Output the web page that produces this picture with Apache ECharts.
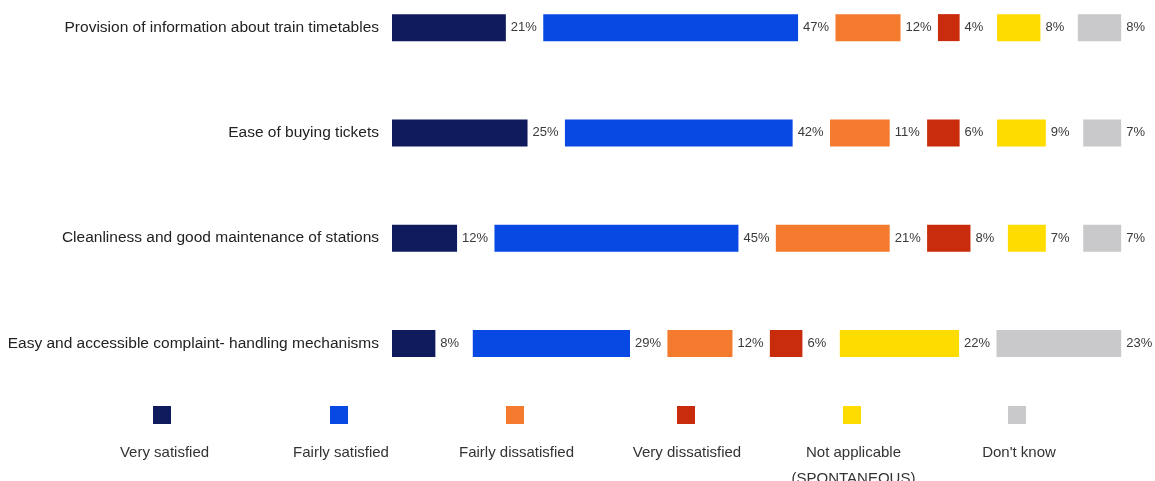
<!DOCTYPE html>
<html>
<head>
<meta charset="utf-8">
<script src="https://cdn.jsdelivr.net/npm/echarts@6/dist/echarts.min.js"></script>
<style>html,body{margin:0;padding:0;background:#fff;}#c{width:1155px;height:481px;}</style>
</head>
<body>
<div id="c"></div>
<script>
const categories = [
  "Provision of information about train timetables",
  "Ease of buying tickets",
  "Cleanliness and good maintenance of stations",
  "Easy and accessible complaint- handling mechanisms"
];
const seriesNames = ["Very satisfied", "Fairly satisfied", "Fairly dissatisfied", "Very dissatisfied", "Not applicable\n(SPONTANEOUS)", "Don't know"];
const verySatisfied = [21, 25, 12, 8];
const fairlySatisfied = [47, 42, 45, 29];
const fairlyDissatisfied = [12, 11, 21, 12];
const veryDissatisfied = [4, 6, 8, 6];
const notApplicable = [8, 9, 7, 22];
const dontKnow = [8, 7, 7, 23];
const colors = ["#101b5e", "#0849e4", "#f47a2e", "#c92c0c", "#ffdc00", "#c9c9cb"];

const values = [verySatisfied, fairlySatisfied, fairlyDissatisfied, veryDissatisfied, notApplicable, dontKnow];
const GAP = 6.9; // label space between segments (axis units)
const FONT = '"Liberation Sans", Arial, sans-serif';

const series = [];
values.forEach((vals, i) => {
  series.push({
    name: seriesNames[i],
    type: 'bar',
    stack: 'all',
    barWidth: 27,
    data: vals,
    itemStyle: { color: colors[i] },
    label: {
      show: true, position: 'right', distance: 5,
      formatter: p => p.value + '%',
      color: '#3a3a3a', fontSize: 13, fontFamily: FONT
    },
    emphasis: { disabled: true }
  });
  if (i < values.length - 1) {
    series.push({
      name: 'gap' + i, type: 'bar', stack: 'all', barWidth: 27, silent: true,
      data: vals.map(() => GAP),
      itemStyle: { color: 'rgba(0,0,0,0)' },
      label: { show: false }, tooltip: { show: false }
    });
  }
});

const legendX = [162, 339, 515, 686, 852, 1017];
const labelX = [164.5, 341, 516.5, 687, 853.5, 1019];
const legends = seriesNames.map((n, i) => ({
  data: [n], left: legendX[i] - 9, top: 406, icon: 'rect',
  itemWidth: 18, itemHeight: 18, itemGap: 0, padding: 0,
  selectedMode: false,
  formatter: () => '',
  textStyle: { fontSize: 1 }
}));
const graphicEls = seriesNames.map((n, i) => ({
  type: 'text', x: labelX[i], y: 440,
  style: {
    text: n, textAlign: 'center', textVerticalAlign: 'top',
    fill: '#333', fontSize: 15, fontFamily: FONT, lineHeight: 26
  }
}));

const chart = echarts.init(document.getElementById('c'));
chart.setOption({
  animation: false,
  backgroundColor: '#fff',
  grid: { left: 392, width: 759, top: -25, height: 421, outerBoundsMode: 'none', containLabel: false },
  xAxis: { type: 'value', min: 0, max: 140, show: false },
  yAxis: {
    type: 'category', data: categories, inverse: true,
    axisLine: { show: false }, axisTick: { show: false }, splitLine: { show: false },
    axisLabel: { color: '#222', fontSize: 15.5, fontFamily: FONT, margin: 13 }
  },
  legend: legends,
  graphic: graphicEls,
  series: series
});
</script>
</body>
</html>
